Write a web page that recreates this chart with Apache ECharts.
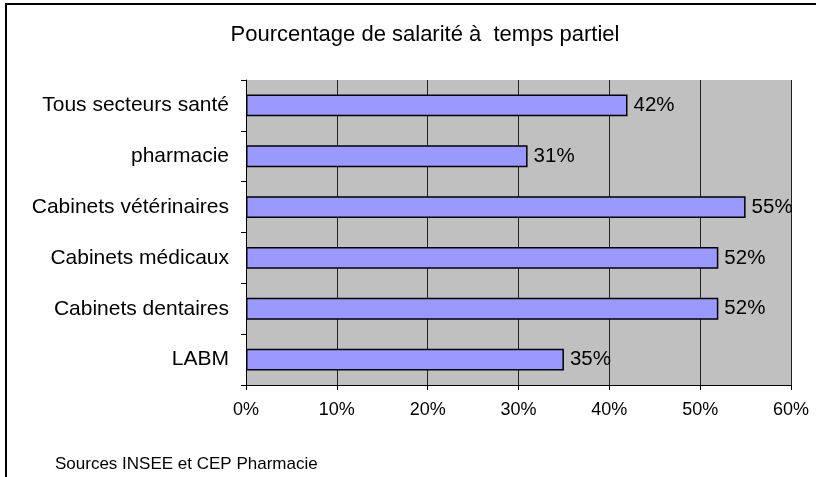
<!DOCTYPE html>
<html><head><meta charset="utf-8">
<script src="https://cdn.jsdelivr.net/npm/echarts@6/dist/echarts.min.js"></script>
<style>html,body{margin:0;padding:0;background:#fff}#c{width:816px;height:477px}</style>
</head><body><div id="c"></div>
<script>
const categories = ['LABM','Cabinets dentaires','Cabinets médicaux','Cabinets vétérinaires','pharmacie','Tous secteurs santé'];
const values = [35, 52, 52, 55, 31, 42];
const xTicks = [0, 10, 20, 30, 40, 50, 60];
const titleText = 'Pourcentage de salarité à  temps partiel';
const sourceText = 'Sources INSEE et CEP Pharmacie';

const chart = echarts.init(document.getElementById('c'), null, {renderer:'canvas'});
const F = 'Liberation Sans, Arial, sans-serif';
chart.setOption({
  animation:false,
  backgroundColor:'#fff',
  graphic:[
    {type:'rect',shape:{x:6,y:4,width:900,height:600},style:{fill:'none',stroke:'#000',lineWidth:2},silent:true},
    {type:'text',x:425,y:35,style:{text:titleText,fontFamily:F,fontSize:22,fill:'#000',align:'center',verticalAlign:'middle'}},
    {type:'text',x:55,y:464,style:{text:sourceText,fontFamily:F,fontSize:17,fill:'#000',align:'left',verticalAlign:'middle'}}
  ],
  grid:{left:246,right:25,top:80,bottom:92,show:true,backgroundColor:'#C0C0C0',borderWidth:0},
  xAxis:{type:'value',min:xTicks[0],max:xTicks[xTicks.length-1],interval:10,
    axisLine:{show:true,lineStyle:{color:'#000',width:1}},
    axisTick:{show:true,length:5,lineStyle:{color:'#000'}},
    axisLabel:{formatter:v=>v+'%',fontFamily:F,fontSize:18,color:'#000',margin:16},
    splitLine:{show:true,lineStyle:{color:'#222',width:1}}},
  yAxis:{type:'category',data:categories,
    axisLine:{show:true,lineStyle:{color:'#000',width:1}},
    axisTick:{show:true,length:5,inside:false,lineStyle:{color:'#000'}},
    axisLabel:{fontFamily:F,fontSize:21,color:'#000',margin:17},
    splitLine:{show:false}},
  series:[{type:'bar',data:values,barWidth:'43%',
    itemStyle:{color:'#9999FF',borderColor:'#000',borderWidth:1.5},
    label:{show:true,position:'right',distance:6,formatter:p=>p.value+'%',fontFamily:F,fontSize:20.5,color:'#000'}}]
});
</script></body></html>
